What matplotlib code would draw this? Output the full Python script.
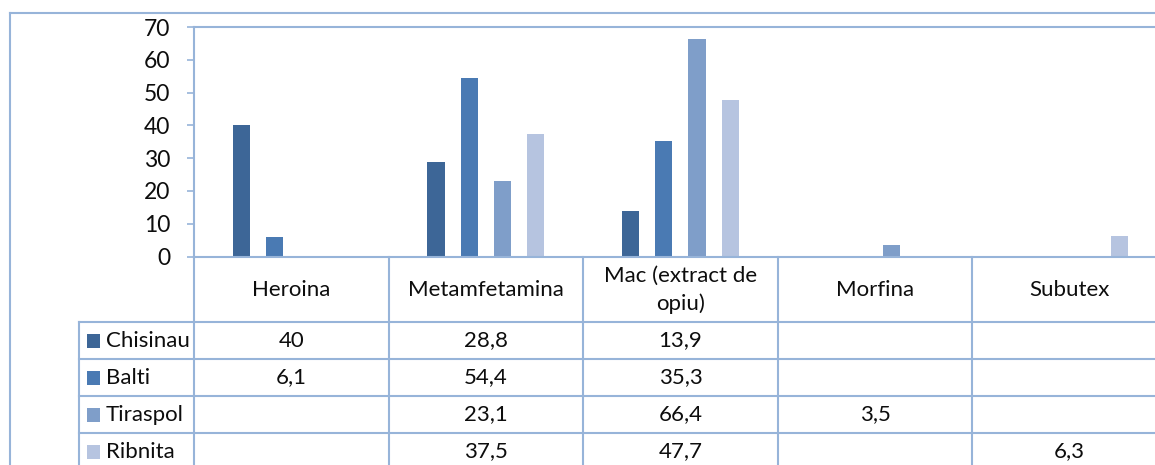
import matplotlib
matplotlib.use('Agg')
import matplotlib.pyplot as plt
from matplotlib.patches import Rectangle
from matplotlib.transforms import blended_transform_factory

# ---- data ----
categories = ['Heroina', 'Metamfetamina', 'Mac (extract de\nopiu)', 'Morfina', 'Subutex']
series_names = ['Chisinau', 'Balti', 'Tiraspol', 'Ribnita']
chisinau = [40, 28.8, 13.9, None, None]
balti = [6.1, 54.4, 35.3, None, None]
tiraspol = [None, 23.1, 66.4, 3.5, None]
ribnita = [None, 37.5, 47.7, None, 6.3]
series_values = [chisinau, balti, tiraspol, ribnita]
colors = ['#3D6697', '#4A7AB3', '#7F9EC9', '#B6C4E0']
yticks = [0, 10, 20, 30, 40, 50, 60, 70]

# ---- style ----
W, H = 1155, 465
FONT = 'Lato'
FS = 16
LINE = '#97B4D9'
TXT = '#0d0d0d'
plt.rcParams['font.family'] = [FONT, 'DejaVu Sans']

fig = plt.figure(figsize=(W / 100, H / 100), dpi=100)
fig.patch.set_facecolor('white')

# overlay axes in pixel coordinates (for table frame)
ov = fig.add_axes([0, 0, 1, 1])
ov.set_xlim(0, W)
ov.set_ylim(H, 0)
ov.axis('off')

# plot area
px_left, px_right, px_top, px_zero = 194, 1166.8, 27, 256.5
ax = fig.add_axes([px_left / W, (H - px_zero) / H, (px_right - px_left) / W, (px_zero - px_top) / H])
ax.set_facecolor('none')
ax.set_xlim(-0.5, len(categories) - 0.5)
ax.set_ylim(0, 70)
ax.set_yticks(yticks)
ax.set_xticks([])
for s in ax.spines.values():
    s.set_color(LINE)
    s.set_linewidth(1.5)
ax.spines['right'].set_visible(False)
ax.tick_params(axis='y', length=5, width=1.2, color=LINE, pad=12, labelsize=FS + 0.5, labelcolor=TXT)

step = 0.171
bw = 0.089
for j, vals in enumerate(series_values):
    for i, v in enumerate(vals):
        if v is None:
            continue
        ax.bar(i + (j - 1.5) * step, v, width=bw, color=colors[j], edgecolor='none')

# ---- table ----
bt = blended_transform_factory(ax.transData, ov.transData)
header_bottom = 322
row_h = 37
row_tops = [header_bottom + k * row_h for k in range(len(series_names))]
leg_left = 79
lw = 1.5

# outer chart border
ov.plot([10, 10], [12.7, H + 5], color=LINE, lw=lw, clip_on=False)
ov.plot([10, W + 5], [12.7, 12.7], color=LINE, lw=lw, clip_on=False)

# vertical category separators
for i in range(len(categories) + 1):
    ov.plot([i - 0.5, i - 0.5], [px_zero, H + 5], color=LINE, lw=lw, transform=bt, clip_on=False)
# legend column left border
ov.plot([leg_left, leg_left], [header_bottom, H + 5], color=LINE, lw=lw)
# horizontal row lines
for y in row_tops:
    ov.plot([leg_left, W + 5], [y, y], color=LINE, lw=lw, clip_on=False)

# header labels
for i, c in enumerate(categories):
    ov.text(i, (px_zero + header_bottom) / 2 + 1, c, transform=bt, ha='center', va='center',
            fontsize=FS, color=TXT, linespacing=1.45)

# rows
for j, (name, vals) in enumerate(zip(series_names, series_values)):
    yc = row_tops[j] + row_h / 2
    ov.add_patch(Rectangle((86.7, yc - 7), 13.3, 14, facecolor=colors[j], edgecolor='none'))
    ov.text(106, yc, name, ha='left', va='center', fontsize=FS, color=TXT)
    for i, v in enumerate(vals):
        if v is None:
            continue
        lab = f'{v:g}'.replace('.', ',')
        ov.text(i, yc, lab, transform=bt, ha='center', va='center', fontsize=FS, color=TXT)

fig.savefig('out.png', dpi=100)
